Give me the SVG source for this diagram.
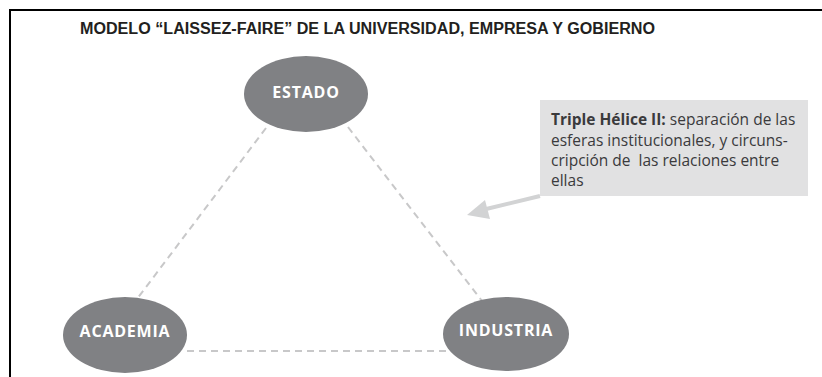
<svg xmlns="http://www.w3.org/2000/svg" width="822" height="377" viewBox="0 0 822 377">
<style>
.node{fill:#808184;}
.nlabel{font-family:"Open Sans","Liberation Sans",sans-serif;font-weight:bold;font-size:16px;fill:#ffffff;text-anchor:middle;letter-spacing:0.8px;}
.dash{stroke:#c8c8c9;stroke-width:2;stroke-dasharray:7 5;fill:none;}
.note{font-family:"Open Sans","Liberation Sans",sans-serif;font-size:15.5px;fill:#3a3a3c;}
</style>
<rect width="822" height="377" fill="#ffffff"/>
<path d="M10,377 L10,10 L822,10" fill="none" stroke="#000" stroke-width="2"/>
<text x="80" y="34" font-family="'Liberation Sans',Arial,sans-serif" font-weight="bold" font-size="16" fill="#231f20" textLength="575" lengthAdjust="spacingAndGlyphs">MODELO “LAISSEZ-FAIRE” DE LA UNIVERSIDAD, EMPRESA Y GOBIERNO</text>
<g id="connectors">
<line class="dash" x1="266" y1="128" x2="137" y2="299"/>
<line class="dash" x1="348" y1="127" x2="482" y2="301"/>
<line class="dash" x1="187" y1="351" x2="447" y2="351"/>
<line x1="540" y1="196" x2="482" y2="210" stroke="#d2d3d4" stroke-width="4"/>
<polygon points="467,215 485,200 490,219" fill="#d2d3d4"/>
</g>
<g id="estado">
<ellipse class="node" cx="306" cy="94" rx="62" ry="38"/>
<text class="nlabel" x="306" y="98">ESTADO</text>
</g>
<g id="academia">
<ellipse class="node" cx="125" cy="335" rx="62" ry="38"/>
<text class="nlabel" x="125" y="337">ACADEMIA</text>
</g>
<g id="industria">
<ellipse class="node" cx="506" cy="334" rx="63" ry="37"/>
<text class="nlabel" x="506" y="336">INDUSTRIA</text>
</g>
<g id="note">
<rect x="540" y="100" width="268" height="96" fill="#e1e1e2"/>
<text class="note" x="551" y="125"><tspan font-weight="bold">Triple Hélice II:</tspan> separación de las</text>
<text class="note" x="551" y="146">esferas institucionales, y circuns-</text>
<text class="note" x="551" y="166" xml:space="preserve">cripción de  las relaciones entre</text>
<text class="note" x="551" y="186">ellas</text>
</g>
</svg>
